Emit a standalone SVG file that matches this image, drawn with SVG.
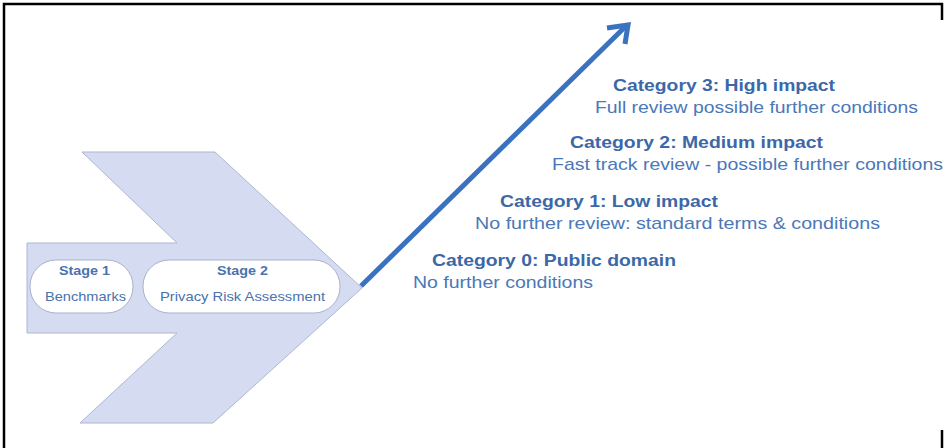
<svg xmlns="http://www.w3.org/2000/svg" width="948" height="448" viewBox="0 0 948 448">
<style>
.frame{fill:none;stroke:#000;stroke-width:2.5}
.chev{fill:#d5dbf0;stroke:#aeb6d2;stroke-width:1}
.pill{fill:#fff;stroke:#a9b2cc;stroke-width:1}
.st{font-family:"Liberation Sans",Arial,sans-serif;font-size:13px;fill:#4a72ad}
.stb{font-weight:bold}
.cat{font-family:"Liberation Sans",Arial,sans-serif;font-size:17px;font-weight:bold;fill:#3c68a8}
.desc{font-family:"Liberation Sans",Arial,sans-serif;font-size:17px;fill:#4a78b8}
.arrow{fill:none;stroke:#3a72c0;stroke-width:5;stroke-linecap:butt;stroke-linejoin:miter}
</style>
<rect width="948" height="448" fill="#fff"/>
<path class="frame" d="M4,448 V4 H942 V20 M942,430 V448"/>
<g id="chevron">
<path class="chev" d="M27,243 H177 L82,152 H215 L362,288 L213,423 H80 L177,333 H27 Z"/>
</g>
<g id="stage1">
<rect class="pill" x="30" y="260" width="103" height="53" rx="26" ry="26"/>
<text class="st stb" x="59" y="275" textLength="51" lengthAdjust="spacingAndGlyphs">Stage 1</text>
<text class="st" x="45" y="301" textLength="81" lengthAdjust="spacingAndGlyphs">Benchmarks</text>
</g>
<g id="stage2">
<rect class="pill" x="143" y="260" width="197" height="53" rx="26" ry="26"/>
<text class="st stb" x="217" y="275" textLength="51" lengthAdjust="spacingAndGlyphs">Stage 2</text>
<text class="st" x="160" y="301" textLength="165" lengthAdjust="spacingAndGlyphs">Privacy Risk Assessment</text>
</g>
<g id="connectors">
<path class="arrow" d="M361,286 L626,26"/>
<path class="arrow" d="M607,28 L628,25 L625,44"/>
</g>
<g id="cat3">
<text class="cat" x="613" y="91" textLength="222" lengthAdjust="spacingAndGlyphs">Category 3: High impact</text>
<text class="desc" x="595" y="113" textLength="323" lengthAdjust="spacingAndGlyphs">Full review possible further conditions</text>
</g>
<g id="cat2">
<text class="cat" x="570" y="148" textLength="253" lengthAdjust="spacingAndGlyphs">Category 2: Medium impact</text>
<text class="desc" x="552" y="170" textLength="391" lengthAdjust="spacingAndGlyphs">Fast track review - possible further conditions</text>
</g>
<g id="cat1">
<text class="cat" x="500" y="207" textLength="218" lengthAdjust="spacingAndGlyphs">Category 1: Low impact</text>
<text class="desc" x="475" y="229" textLength="405" lengthAdjust="spacingAndGlyphs">No further review: standard terms &amp; conditions</text>
</g>
<g id="cat0">
<text class="cat" x="432" y="266" textLength="244" lengthAdjust="spacingAndGlyphs">Category 0: Public domain</text>
<text class="desc" x="413" y="288" textLength="180" lengthAdjust="spacingAndGlyphs">No further conditions</text>
</g>
</svg>
